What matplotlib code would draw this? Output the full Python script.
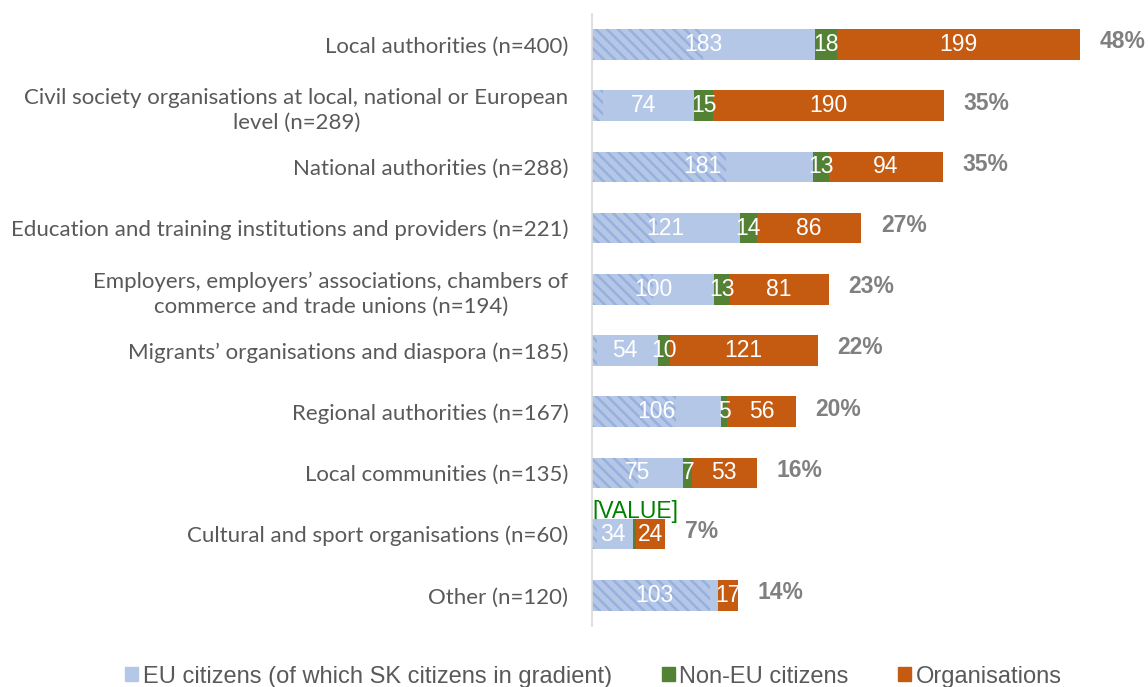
import numpy as np
import matplotlib
matplotlib.use('Agg')
import matplotlib.pyplot as plt
from matplotlib.patches import Patch

# data (top to bottom)
categories = ['Local authorities (n=400)',
              'Civil society organisations at local, national or European\nlevel (n=289)',
              'National authorities (n=288)',
              'Education and training institutions and providers (n=221)',
              'Employers, employers\u2019 associations, chambers of\ncommerce and trade unions (n=194)',
              'Migrants\u2019 organisations and diaspora (n=185)',
              'Regional authorities (n=167)',
              'Local communities (n=135)',
              'Cultural and sport organisations (n=60)',
              'Other (n=120)']
eu_citizens = [183, 84, 181, 121, 100, 54, 106, 75, 34, 103]
eu_labels = ['183', '74', '181', '121', '100', '54', '106', '75', '34', '103']
sk_citizens = [91, 9, 110, 53, 50, 4, 69, 38, 4, 97]
non_eu = [18, 15, 13, 14, 13, 10, 5, 7, 2, 0]
non_eu_labels = ['18', '15', '13', '14', '13', '10', '5', '7', '[VALUE]', '']
organisations = [199, 190, 94, 86, 81, 121, 56, 53, 24, 17]
shares = ['48%', '35%', '35%', '27%', '23%', '22%', '20%', '16%', '7%', '14%']

c_eu = '#B4C7E7'
c_hatch = '#98B0DE'
c_non = '#548235'
c_org = '#C55A11'

plt.rcParams['hatch.linewidth'] = 1.8

fig = plt.figure(figsize=(11.48, 6.87), dpi=100)
ax = fig.add_axes([592/1148, 1-626/687, 1-592/1148, 612/687])

y = np.arange(len(categories))
eu = np.array(eu_citizens)
ne = np.array(non_eu)
org = np.array(organisations)
h = 0.5

ax.barh(y, eu, height=h, color=c_eu, zorder=2)
ax.barh(y, sk_citizens, height=h, color=c_eu, edgecolor=c_hatch, hatch='\\\\\\', linewidth=0, zorder=2)
ax.barh(y, ne, left=eu, height=h, color=c_non, zorder=2)
ax.barh(y, org, left=eu+ne, height=h, color=c_org, zorder=2)

lab = dict(color='white', fontsize=16.5, family='Liberation Sans', ha='center', va='center', zorder=4)
for i in range(len(y)):
    ax.text(eu[i]/2, y[i], eu_labels[i], **lab)
    if non_eu_labels[i] == '[VALUE]':
        # label sits just above the bar, its bottom hidden behind it
        ax.text(0, y[i]-0.27, '[VALUE]', color='#008000', fontsize=16.5, family='Liberation Sans',
                ha='left', va='baseline', zorder=1)
    elif non_eu_labels[i]:
        ax.text(eu[i]+ne[i]/2, y[i], non_eu_labels[i], **lab)
    ax.text(eu[i]+ne[i]+org[i]/2, y[i], str(org[i]), **lab)
    ax.annotate(shares[i], (eu[i]+ne[i]+org[i], y[i]), xytext=(14, 2), textcoords='offset points',
                ha='left', va='center', fontsize=16.5, fontweight='bold', color='#808080',
                family='Liberation Sans')

ax.set_xlim(0, 456)
ax.set_ylim(len(y)-0.5, -0.5)
ax.set_xticks([])
ax.set_yticks(y)
ax.set_yticklabels(categories, fontsize=16, color='#595959', family='Lato',
                   multialignment='center', linespacing=1.3)
ax.tick_params(axis='y', length=0, pad=17)
for s in ['top', 'right', 'bottom']:
    ax.spines[s].set_visible(False)
ax.spines['left'].set_color('#D9D9D9')
ax.spines['left'].set_linewidth(1.2)

handles = [Patch(color=c_eu, label='EU citizens (of which SK citizens in gradient)'),
           Patch(color=c_non, label='Non-EU citizens'),
           Patch(color=c_org, label='Organisations')]
fig.legend(handles=handles, loc='center', bbox_to_anchor=(0.517, 0.015), ncol=3, frameon=False,
           prop={'family': 'Liberation Sans', 'size': 17}, labelcolor='#595959',
           handlelength=0.55, handleheight=0.55, handletextpad=0.2, columnspacing=2.1)

fig.savefig('out.png', dpi=100)
